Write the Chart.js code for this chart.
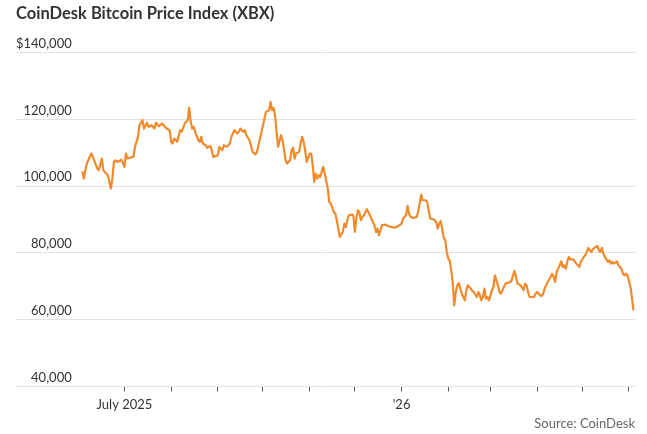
<!DOCTYPE html>
<html>
<head>
<meta charset="utf-8">
<script src="https://cdn.jsdelivr.net/npm/chart.js@4"></script>
<style>
  html, body { margin: 0; padding: 0; background: #fff; }
  #wrap { width: 647px; height: 434px; position: relative; }
</style>
</head>
<body>
<div id="wrap"><canvas id="xbxChart"></canvas></div>
<script>
// Días contados desde el 1 de julio de 2025
const days = [
  -28, -27, -25, -22, -21, -18, -17, -15, -14, -13, -11, -9, -8, -7, -6, -5, -3, -2,
  0, 1, 2, 4, 6, 7, 9, 10, 12, 13, 15, 16, 18, 20, 21, 23, 25, 26, 28, 30,
  31, 32, 33, 35, 37, 38, 40, 42, 43, 44, 45, 46, 47, 49, 50, 51, 52, 54, 55, 57, 58, 59,
  62, 63, 65, 66, 68, 70, 71, 73, 75, 76, 77, 79, 80, 81, 83, 84, 85, 87, 88, 90, 91,
  93, 94, 96, 97, 98, 99, 100, 101, 102, 104, 105, 106, 107, 108, 110, 111, 112, 113, 114, 116, 117, 118, 119, 120, 121,
  123, 124, 125, 126, 127, 128, 129, 130, 132, 133, 135, 136, 137, 139, 140, 141, 142, 143, 145, 146, 147, 148, 149, 151, 152,
  153, 154, 155, 156, 157, 158, 159, 161, 163, 164, 165, 166, 167, 168, 169, 170, 171, 173, 175, 177, 179, 181,
  184, 185, 187, 188, 189, 190, 192, 194, 195, 196, 197, 198, 200, 201, 202, 203, 205, 206, 207, 208, 209, 210, 211, 212, 213, 214,
  215, 216, 217, 218, 219, 220, 221, 222, 223, 224, 226, 227, 228, 230, 231, 232, 234, 235, 236, 237, 238, 239, 240, 241, 242,
  244, 245, 246, 247, 248, 249, 250, 251, 253, 255, 256, 257, 258, 259, 260, 261, 262, 263, 265, 266, 267, 268, 269, 271, 272, 273,
  274, 276, 277, 278, 279, 280, 281, 283, 284, 285, 286, 287, 288, 289, 290, 291, 292, 293, 294, 295, 296, 298, 299, 300, 301, 302, 303,
  305, 306, 307, 308, 309, 310, 311, 312, 314, 315, 316, 317, 318, 319, 320, 321, 322, 323, 324, 325, 327, 328, 329, 330, 331, 332, 333, 334,
  336, 337, 338
];

// Precio en miles de dólares
const priceK = [
  104.5, 102.3, 106.8, 109.8, 108.8, 105.3, 104.8, 108.3, 104.8, 104.3, 103.3, 99.3, 102.3, 107.3, 107.8, 107.3, 107.6, 108,
  105.8, 109.8, 108.3, 108.6, 108.8, 111.8, 114.8, 118.3, 119.8, 117.3, 119, 117.8, 118.3, 117.3, 119, 118, 118.8, 118.3, 117.3, 116.8,
  113.3, 112.8, 114.3, 113.3, 116.8, 116.3, 118.8, 119.8, 123.5, 119.3, 117.3, 117.8, 116.3, 113.8, 113.3, 114.8, 112.8, 112.3, 111.5, 112.1, 110.8, 108.8,
  109.3, 111.8, 110.8, 112.3, 111.8, 112.8, 114.8, 116.8, 115.8, 116.3, 117.3, 116.3, 116.8, 115.3, 113.8, 112.3, 110.3, 109.5, 110.3, 114.3, 116.3,
  120.3, 122.3, 122.8, 125.3, 122.8, 123.5, 121.3, 116.3, 111.8, 115.3, 113.8, 110.8, 107.8, 106.8, 107.8, 110.8, 111.5, 108.3, 109.8, 110.3, 112.8, 114.8, 113.3, 110.8, 107.3,
  109.8, 109.8, 106.3, 101.3, 103.8, 102.3, 103.3, 102.8, 105.8, 103.8, 99.3, 95.3, 94.8, 92.3, 91.8, 89.8, 87.3, 84.8, 86.3, 88.8, 87.8, 89.8, 91.3, 91.5, 91.3,
  86.3, 90.3, 92.8, 92.3, 89.8, 90.8, 91.3, 93.1, 91.3, 90.3, 89.3, 88.3, 86.3, 87.3, 85.3, 86.8, 88.3, 88.5, 88.1, 87.8, 87.6, 87.8,
  88.8, 90.3, 91.3, 94.1, 91.8, 90.8, 90.5, 90.8, 92.3, 94.8, 97.5, 95.8, 95.8, 95.3, 92.8, 90.3, 90.1, 89.8, 89.3, 87.3, 88.8, 89.5, 87.3, 84.5, 83.8, 80.3,
  78.3, 77.6, 74.8, 70.8, 64.3, 68.3, 70.3, 71, 69.3, 67.8, 65.8, 68.8, 70.3, 69.3, 68.6, 68.3, 66.8, 68.3, 67.3, 65.8, 66.8, 69.3, 66.3, 66.8, 65.8,
  68.8, 69.8, 73.3, 71.8, 70.3, 68.3, 67.8, 68.8, 70.8, 71.1, 71.3, 71.6, 73.3, 74.6, 72.8, 70.8, 70.6, 70.3, 68.9, 70.8, 70.3, 68.3, 66.8, 66.8, 66.8, 67.8,
  68.3, 67.3, 67.1, 67.8, 69.3, 70.3, 71.3, 72.8, 73.8, 72.8, 71.3, 74.3, 75.3, 76.3, 77.5, 75.8, 76.3, 75.3, 77.3, 78.8, 78.1, 78.1, 77.5, 76.8, 76.3, 75.8, 77.3,
  78.8, 79.3, 80.3, 81.5, 80.8, 80.3, 81.1, 81.5, 82.1, 80.8, 80.3, 81.5, 79.8, 78.8, 78.1, 77.3, 77.8, 76.8, 77.3, 76.8, 77.5, 76.3, 75.8, 75.3, 73.8, 73.3, 73.8, 73.3,
  69.8, 66.5, 62.8
];

// Marcas del eje X: primer día de cada mes (jul 2025 - jun 2026)
const monthTicks = [0, 31, 62, 92, 123, 153, 184, 215, 243, 274, 304, 335];
const monthLabels = ["July 2025", "", "", "", "", "", "'26", "", "", "", "", ""];

// Eje Y
const yTicks = [40000, 60000, 80000, 100000, 120000, 140000];

const points = days.map((d, i) => ({ x: d, y: priceK[i] * 1000 }));

Chart.defaults.font.family = "Lato, 'Noto Sans', sans-serif";

new Chart(document.getElementById("xbxChart"), {
  type: "line",
  data: {
    datasets: [
      {
        label: "XBX",
        data: points,
        borderColor: "#f18a2a",
        borderWidth: 2.2,
        pointRadius: 0,
        tension: 0,
        borderJoinStyle: "round",
      },
    ],
  },
  options: {
    responsive: true,
    maintainAspectRatio: false,
    animation: false,
    layout: { padding: { left: 16, right: 12, top: 0, bottom: 0 } },
    plugins: {
      legend: { display: false },
      tooltip: { enabled: false },
      title: {
        display: true,
        text: "CoinDesk Bitcoin Price Index (XBX)",
        align: "start",
        color: "#333",
        font: { size: 16.5, weight: "bold" },
        padding: { top: 4, bottom: 29 },
      },
      subtitle: {
        display: true,
        position: "bottom",
        text: "Source: CoinDesk",
        align: "end",
        color: "#666",
        font: { size: 13 },
        padding: { top: 0, bottom: 2 },
      },
    },
    scales: {
      x: {
        type: "linear",
        min: -72,
        max: 339,
        afterBuildTicks: (axis) => {
          axis.ticks = monthTicks.map((v) => ({ value: v }));
        },
        afterFit: (s) => {
          s.height = 30;
        },
        ticks: {
          autoSkip: false,
          maxRotation: 0,
          padding: 6,
          color: "#333",
          font: { size: 13 },
          callback: (v, i) => monthLabels[i],
        },
        grid: { drawOnChartArea: false, drawTicks: true, tickLength: 5, color: "#555" },
        border: { display: false },
      },
      y: {
        min: 40000,
        max: 140000,
        afterBuildTicks: (axis) => {
          axis.ticks = yTicks.map((v) => ({ value: v }));
        },
        afterFit: (s) => {
          s.width = 0;
        },
        ticks: {
          mirror: true,
          crossAlign: "far",
          padding: 0,
          labelOffset: -9,
          color: "#333",
          font: { size: 13 },
          callback: (v) => (v === 140000 ? "$" : "") + v.toLocaleString("en-US"),
        },
        grid: { color: "#e2e2e2", drawTicks: false },
        border: { display: false },
      },
    },
  },
});
</script>
</body>
</html>
